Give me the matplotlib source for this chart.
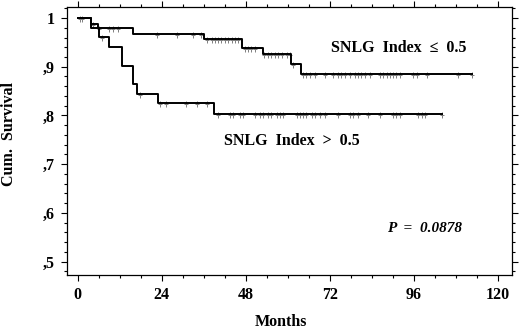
import matplotlib
matplotlib.use("Agg")
import matplotlib.pyplot as plt
import numpy as np
from matplotlib.path import Path
from matplotlib.ticker import MultipleLocator

plt.rcParams['font.family'] = ['Liberation Serif', 'DejaVu Serif']
plt.rcParams['font.weight'] = 'bold'

# Kaplan-Meier step curves: event times and survival after each event
low_times = [0, 3.7, 5.7, 15.8, 36.0, 46.8, 52.8, 60.8, 63.6]
low_surv = [1.0, 0.988, 0.980, 0.967, 0.956, 0.939, 0.926, 0.906, 0.886]
low_end = 112.5
low_cens = [0.6, 4.4, 6.1, 9.0, 10.1, 11.5, 22.5, 28.2, 33.0, 35.3,
            36.8, 38.2, 39.1, 40.1, 41.0, 42.0, 42.9, 43.9, 44.9, 45.8,
            47.7, 48.7, 49.6, 50.6, 53.1, 54.4, 55.3, 56.3, 57.2, 58.2,
            59.6, 60.6, 61.5, 64.4, 65.3, 66.3, 67.7, 70.6, 73.0, 74.4,
            75.3, 76.3, 77.7, 79.1, 80.1, 81.0, 82.0, 83.4, 86.3, 87.2,
            88.2, 89.1, 90.1, 91.0, 92.0, 95.8, 96.8, 99.6, 108.7, 112.5]

high_times = [0, 3.7, 6.0, 8.9, 12.5, 15.8, 16.8, 23.0, 38.9]
high_surv = [1.0, 0.980, 0.961, 0.941, 0.902, 0.865, 0.845, 0.826, 0.803]
high_end = 103.9
high_cens = [1.2, 6.8, 17.8, 23.4, 25.3, 31.0, 33.9, 36.8,
             40.1, 43.4, 44.4, 46.3, 47.2, 50.6, 52.0, 53.0, 54.4, 55.3,
             56.8, 57.7, 58.7, 62.5, 63.4, 64.4, 65.3, 66.8, 67.7, 69.1,
             70.6, 74.4, 77.7, 78.7, 80.1, 83.0, 86.3, 90.1, 91.0, 92.0,
             97.2, 98.2, 99.1, 103.9]

x_ticks = [0, 24, 48, 72, 96, 120]
y_ticks = [0.5, 0.6, 0.7, 0.8, 0.9, 1.0]
y_tick_labels = [',5', ',6', ',7', ',8', ',9', '1']


def step_xy(times, surv, end):
    xs = list(times) + [end]
    ys = list(surv) + [surv[-1]]
    return xs, ys


def surv_at(times, surv, t):
    idx = np.searchsorted(np.array(times), t, side='right') - 1
    return np.array(surv)[idx]


# censor marker: plus hanging slightly below the line
verts = [(0, 0.6), (0, -1.4), (-0.9, -0.4), (0.9, -0.4)]
codes = [Path.MOVETO, Path.LINETO, Path.MOVETO, Path.LINETO]
cmark = Path(verts, codes)

fig = plt.figure(figsize=(5.2, 3.3), dpi=100)
ax = fig.add_axes([0.1288, 0.1667, 0.9846 - 0.1288, 0.9788 - 0.1667])

for times, surv, end, cens in [(low_times, low_surv, low_end, low_cens),
                               (high_times, high_surv, high_end, high_cens)]:
    xs, ys = step_xy(times, surv, end)
    ax.step(xs, ys, where='post', color='black', lw=1.4, zorder=3)
    cy = surv_at(times, surv, np.array(cens))
    ax.plot(cens, cy, linestyle='none', marker=cmark, markersize=5.5,
            markeredgewidth=0.7, color='#808080', zorder=2)

ax.set_xlim(-3.1, 124.0)
ax.set_ylim(0.4727, 1.0226)
ax.set_xticks(x_ticks)
ax.xaxis.set_minor_locator(MultipleLocator(6))
ax.set_yticks(y_ticks)
ax.set_yticklabels(y_tick_labels)
ax.yaxis.set_minor_locator(MultipleLocator(0.02))
ax.tick_params(which='both', direction='out', top=True, right=True,
               labeltop=False, labelright=False, width=0.8)
ax.tick_params(which='major', length=4.5, labelsize=11.5, pad=4)
ax.tick_params(which='minor', length=2.2)
for lab in ax.get_xticklabels() + ax.get_yticklabels():
    lab.set_fontweight('bold')
for sp in ax.spines.values():
    sp.set_linewidth(0.9)

fig.text(281 / 520, 1 - 322 / 330, 'Months', ha='center', va='center',
         fontsize=11.5, fontweight='bold')
fig.text(9 / 520, 1 - 134 / 330, 'Cum.  Survival', ha='center', va='center',
         rotation=90, fontsize=11.5, fontweight='bold')

fig.text(399 / 520, 1 - 48 / 330, 'SNLG  Index  \u2264  0.5',
         ha='center', va='center', fontsize=11.5, fontweight='bold')
fig.text(292 / 520, 1 - 141 / 330, 'SNLG  Index  >  0.5',
         ha='center', va='center', fontsize=11.5, fontweight='bold')
fig.text(425 / 520, 1 - 229 / 330, 'P  =  0.0878',
         ha='center', va='center', fontsize=11, fontweight='bold', style='italic')

fig.savefig('out.png', dpi=100)
